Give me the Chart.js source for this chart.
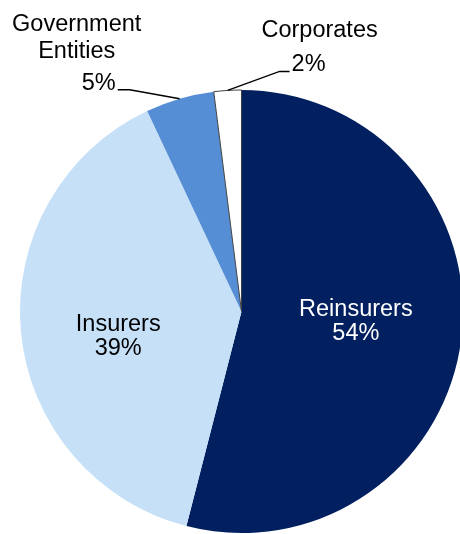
<!DOCTYPE html>
<html>
<head>
<meta charset="utf-8">
<script src="https://cdn.jsdelivr.net/npm/chart.js@4/dist/chart.umd.min.js"></script>
<style>
  html, body { margin: 0; padding: 0; background: #fff; overflow: hidden; }
  #wrap { width: 460px; height: 534px; overflow: hidden; }
</style>
</head>
<body>
<div id="wrap"><canvas id="pie" width="480" height="534"></canvas></div>
<script>
// portfolio split by counterparty type
var categories = ['Reinsurers', 'Insurers', ['Government', 'Entities'], 'Corporates'];
var shares = [54, 39, 5, 2];

var sliceColors = ['#02205F', '#C6E0F8', '#558ED5', '#FFFFFF'];
var textColors = ['#FFFFFF', '#000000', '#000000', '#000000'];

var FONT = '23.5px "Liberation Sans", Arial, sans-serif';

// how each slice gets its label: inside the slice, or outside with a leader line
var labelStyle = [
    { inside: true, dx: 4.5, dy: 2.5 },
    { inside: true, dx: -13, dy: 21 },
    { inside: false, elbow: [-50, -9], tail: -12, nameDx: -41, nameDy: [-59, -32] },
    { inside: false, elbow: [52, -19], tail: 10, nameDx: 30, nameDy: [-34] }
];

var pieLabels = {
    id: 'pieLabels',
    afterDatasetsDraw: function (chart) {
        var ctx = chart.ctx;
        var meta = chart.getDatasetMeta(0);
        var values = chart.data.datasets[0].data;
        ctx.save();
        ctx.font = FONT;
        meta.data.forEach(function (arc, i) {
            var name = chart.data.labels[i];
            var lines = Array.isArray(name) ? name : [name];
            var pct = values[i] + '%';
            var st = labelStyle[i];
            ctx.fillStyle = textColors[i];
            if (st.inside) {
                var p = arc.tooltipPosition();
                var x = p.x + st.dx, y = p.y + st.dy;
                ctx.textAlign = 'center';
                ctx.textBaseline = 'alphabetic';
                ctx.fillText(lines.join(' '), x, y - 12);
                ctx.fillText(pct, x, y + 12);
                return;
            }
            var mid = (arc.startAngle + arc.endAngle) / 2;
            var sx = arc.x + Math.cos(mid) * arc.outerRadius;
            var sy = arc.y + Math.sin(mid) * arc.outerRadius;
            var ex = sx + st.elbow[0], ey = sy + st.elbow[1];
            var tx = ex + st.tail;
            ctx.strokeStyle = '#000';
            ctx.lineWidth = 1.4;
            ctx.beginPath();
            ctx.moveTo(sx, sy);
            ctx.lineTo(ex, ey);
            ctx.lineTo(tx, ey);
            ctx.stroke();

            ctx.textBaseline = 'alphabetic';
            ctx.textAlign = st.tail < 0 ? 'right' : 'left';
            ctx.fillText(pct, tx + (st.tail < 0 ? -2 : 2), ey);
            ctx.textAlign = 'center';
            lines.forEach(function (ln, k) {
                ctx.fillText(ln, tx + st.nameDx, ey + st.nameDy[k]);
            });
        });
        ctx.restore();
    }
};

new Chart(document.getElementById('pie'), {
    type: 'pie',
    data: {
        labels: categories,
        datasets: [{
            data: shares,
            backgroundColor: sliceColors,
            borderColor: ['#02205F', '#C6E0F8', '#558ED5', '#404040'],
            borderWidth: [0, 0, 0, 1]
        }]
    },
    options: {
        responsive: false,
        animation: false,
        devicePixelRatio: 1,
        layout: { padding: { left: 19.5, right: 16.5, top: 89.5, bottom: 0.5 } },
        plugins: {
            legend: { display: false },
            tooltip: { enabled: false }
        }
    },
    plugins: [pieLabels]
});
</script>
</body>
</html>
